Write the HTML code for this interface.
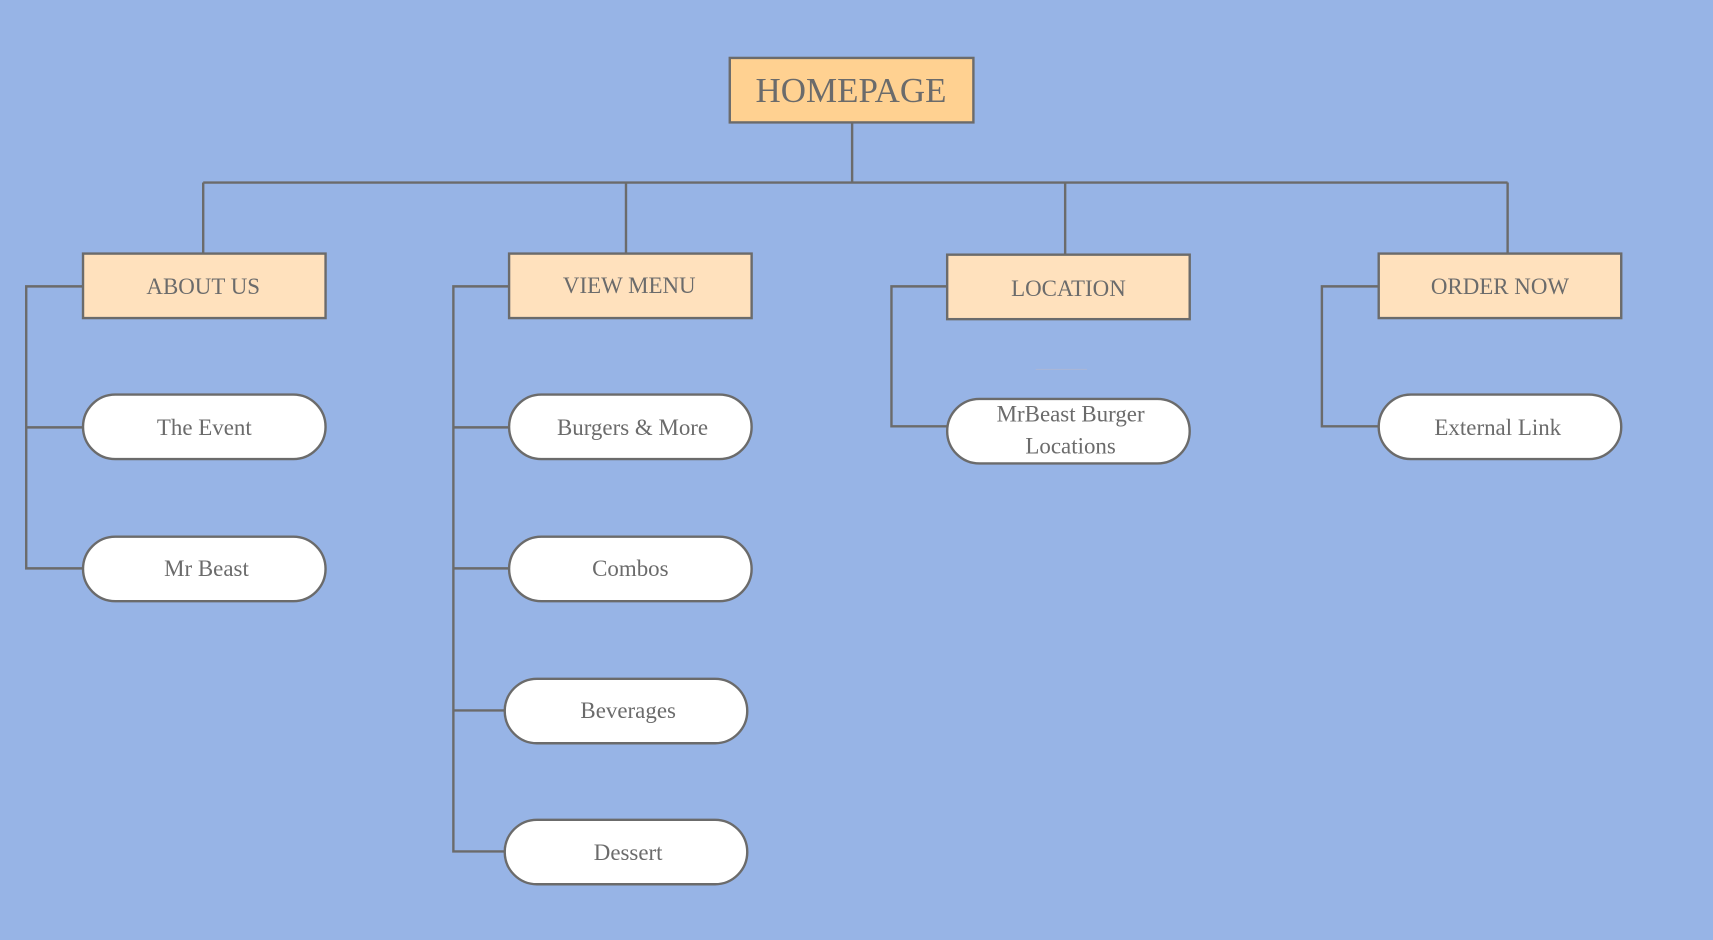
<!DOCTYPE html>
<html><head><meta charset="utf-8"><style>
html,body{margin:0;padding:0;background:#97b4e6;}
svg{display:block}
text{font-family:"Liberation Serif",serif;fill:#6b6b6b;text-anchor:middle;dominant-baseline:central}
</style></head><body>
<svg width="1713" height="940" viewBox="0 0 1568 860" preserveAspectRatio="none" xmlns="http://www.w3.org/2000/svg">
<rect width="1568" height="860" fill="#97b4e6"/>
<g stroke="#6b6b6b" stroke-width="2.2" fill="none">
<path d="M780 112V167M186 167H1380M186 167V232M573 167V232M975 167V232M1380 167V232"/>
<path d="M76 262H24V520H76M24 391H76"/>
<path d="M466 262H415V779H462M415 391H466M415 520H466M415 650H462"/>
<path d="M867 262H816V390H867"/>
<path d="M1262 262H1210V390H1262"/>
</g>
<line x1="948" y1="338" x2="995" y2="338" stroke="#a8b6d8" stroke-width="1"/>
<g stroke="#6b6b6b" stroke-width="2.2">
<rect x="668" y="53" width="223" height="59" fill="#ffd191"/>
<rect x="76" y="232" width="222" height="59" fill="#ffe1bd"/>
<rect x="466" y="232" width="222" height="59" fill="#ffe1bd"/>
<rect x="867" y="233" width="222" height="59" fill="#ffe1bd"/>
<rect x="1262" y="232" width="222" height="59" fill="#ffe1bd"/>
<g fill="#fff">
<rect x="76" y="361" width="222" height="59" rx="29.5"/>
<rect x="76" y="491" width="222" height="59" rx="29.5"/>
<rect x="466" y="361" width="222" height="59" rx="29.5"/>
<rect x="466" y="491" width="222" height="59" rx="29.5"/>
<rect x="462" y="621" width="222" height="59" rx="29.5"/>
<rect x="462" y="750" width="222" height="59" rx="29.5"/>
<rect x="867" y="365" width="222" height="59" rx="29.5"/>
<rect x="1262" y="361" width="222" height="59" rx="29.5"/>
</g></g>
<text x="779" y="83" font-size="32">HOMEPAGE</text>
<g font-size="21">
<text x="186" y="262">ABOUT US</text>
<text x="576" y="261">VIEW MENU</text>
<text x="978" y="264">LOCATION</text>
<text x="1373" y="262">ORDER NOW</text>
<text x="187" y="391">The Event</text>
<text x="189" y="520">Mr Beast</text>
<text x="579" y="391">Burgers &amp; More</text>
<text x="577" y="520">Combos</text>
<text x="575" y="650">Beverages</text>
<text x="575" y="780">Dessert</text>
<text x="980" y="379">MrBeast Burger</text>
<text x="980" y="408">Locations</text>
<text x="1371" y="391">External Link</text>
</g>
</svg>
</body></html>
